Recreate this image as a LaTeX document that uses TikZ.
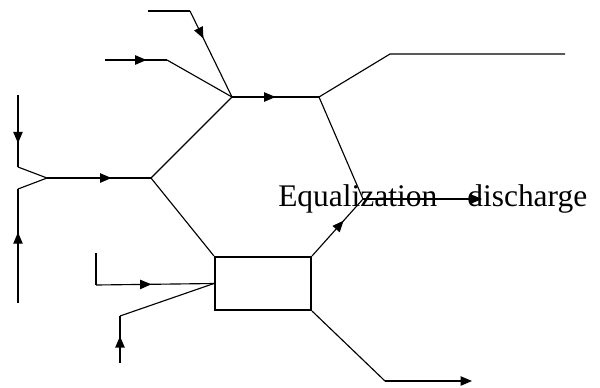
\documentclass[tikz,border=0pt]{standalone}
\usepackage{fontspec}
\setmainfont{Liberation Serif}
\usetikzlibrary{arrows.meta,decorations.markings}
\tikzset{
  flow/.style={line width=0.85pt,line join=miter},
  tip/.style={-{Triangle[length=8.5pt,width=7pt]}},
  arrowat/.style={postaction={decorate,decoration={markings,
      mark=at position #1 with {\arrow{Triangle[length=8.5pt,width=7pt]}}}}},
  tank/.style={draw,line width=1.6pt,minimum width=72pt,minimum height=39.75pt,inner sep=0pt},
  lbl/.style={font=\fontsize{23.6pt}{26pt}\selectfont,inner sep=0pt,anchor=base west}
}
\begin{document}
\begin{tikzpicture}[x=0.75pt,y=-0.75pt]
\useasboundingbox (0,0) rectangle (600,387);
% junctions and ends
\coordinate (J1) at (232,97);
\coordinate (J2) at (151,178);
\coordinate (J3) at (319,97);
\coordinate (V) at (47,178);
\coordinate (M) at (363,199);
\coordinate (a0) at (148,11);
\coordinate (a1) at (190,11);
\coordinate (b0) at (105,60);
\coordinate (b1) at (167,60);
\coordinate (c0) at (18,95);
\coordinate (c1) at (18,167);
\coordinate (d0) at (18,303);
\coordinate (d1) at (18,189);
\coordinate (e0) at (96,253);
\coordinate (e1) at (96,285);
\coordinate (f0) at (120,363);
\coordinate (f1) at (120,316);
\coordinate (g1) at (390,54);
\coordinate (g2) at (565,54);
\coordinate (h1) at (482,199);
\coordinate (k1) at (385,381);
\coordinate (k2) at (472,381);
% tank
\node[tank] (box) at (263,283.5) {};
\coordinate (bin) at (box.west);
% lines
\draw[flow] (a0) -- (a1);
\draw[flow,arrowat=0.32] (a1) -- (J1);
\draw[flow,arrowat=0.67] (b0) -- (b1);
\draw[flow] (b1) -- (J1);
\draw[flow,arrowat=0.5] (J1) -- (J3);
\draw[flow] (J2) -- (J1);
\draw[flow,arrowat=0.62] (V) -- (J2);
\draw[flow,arrowat=0.67] (c0) -- (c1);
\draw[flow] (c1) -- (V);
\draw[flow,arrowat=0.62] (d0) -- (d1);
\draw[flow] (d1) -- (V);
\draw[flow] (J2) -- (box.north west);
\draw[flow] (e0) -- (e1);
\draw[flow,arrowat=0.47] (e1) -- (bin);
\draw[flow,arrowat=0.57] (f0) -- (f1);
\draw[flow] (f1) -- (bin);
\draw[flow] (J3) -- (g1) -- (g2);
\draw[flow] (J3) -- (M);
\draw[flow,arrowat=0.62] (box.north east) -- (M);
\draw[flow,tip] (M) -- (h1);
\draw[flow] (box.south east) -- (k1);
\draw[flow,tip] (k1) -- (k2);
% label
\node[lbl] (lab) at (278,206) {Equalization\hspace{22.5pt}discharge};
\end{tikzpicture}
\end{document}
